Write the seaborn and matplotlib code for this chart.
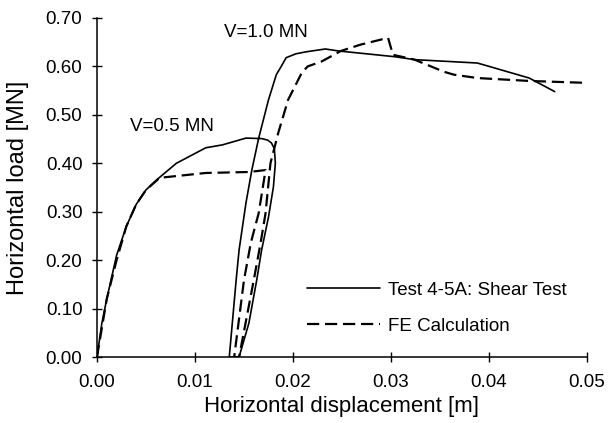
import numpy as np
import pandas as pd
import seaborn as sns
import matplotlib
matplotlib.use('Agg')
from matplotlib import pyplot as plt

test_x = [0.0, 0.0005, 0.001, 0.002, 0.003, 0.004, 0.005, 0.0061, 0.0081, 0.0111, 0.0128,
          0.0152, 0.0168, 0.0174, 0.0178, 0.0181, 0.0182, 0.018, 0.0175, 0.0168, 0.0163, 0.0155,
          0.0145, 0.0135, 0.0142, 0.0145, 0.0152, 0.0158, 0.0165, 0.0175, 0.0183, 0.0188,
          0.0193, 0.0203, 0.0213, 0.0233, 0.0246, 0.0304, 0.0324, 0.0388, 0.0395, 0.0441, 0.0467]
test_y = [0.0, 0.07, 0.12, 0.21, 0.27, 0.315, 0.345, 0.366, 0.40, 0.432, 0.438,
          0.452, 0.451, 0.448, 0.442, 0.43, 0.40, 0.351, 0.289, 0.221, 0.159, 0.07,
          0.0, 0.0, 0.159, 0.221, 0.318, 0.386, 0.452, 0.531, 0.583, 0.600,
          0.618, 0.626, 0.630, 0.636, 0.632, 0.62, 0.614, 0.607, 0.603, 0.576, 0.548]

fe_x = [0.0, 0.001, 0.002, 0.003, 0.004, 0.005, 0.0064, 0.0111, 0.0155, 0.0172, 0.0165,
        0.0157, 0.015, 0.014, 0.0145, 0.016, 0.0167, 0.0172, 0.0177, 0.0185, 0.0195, 0.0209,
        0.0215, 0.0229, 0.0249, 0.0269, 0.0297, 0.0302, 0.0324, 0.0354, 0.0364, 0.0388, 0.0441, 0.05]
fe_y = [0.0, 0.12, 0.2, 0.27, 0.315, 0.345, 0.37, 0.38, 0.382, 0.386, 0.297,
        0.236, 0.159, 0.0, 0.0, 0.159, 0.236, 0.297, 0.40, 0.463, 0.531, 0.587,
        0.60, 0.61, 0.632, 0.645, 0.659, 0.624, 0.614, 0.589, 0.583, 0.576, 0.57, 0.566]

x_ticks = [0.00, 0.01, 0.02, 0.03, 0.04, 0.05]
y_ticks = [0.00, 0.10, 0.20, 0.30, 0.40, 0.50, 0.60, 0.70]

df_test = pd.DataFrame({"disp": test_x, "load": test_y})
df_fe = pd.DataFrame({"disp": fe_x, "load": fe_y})

sns.set_style("white")
plt.rcParams['font.family'] = ['Liberation Sans', 'DejaVu Sans']
plt.rcParams['text.color'] = 'black'
plt.rcParams['axes.labelcolor'] = 'black'

fig = plt.figure(figsize=(6.08, 4.23), dpi=100)
ax = fig.add_axes([0.1595, 0.156, 0.806, 0.8015])

sns.lineplot(data=df_test, x="disp", y="load", sort=False, estimator=None,
             color="black", lw=1.2, label="Test 4-5A: Shear Test", ax=ax)
sns.lineplot(data=df_fe, x="disp", y="load", sort=False, estimator=None,
             color="black", lw=1.6, dashes=False, label="FE Calculation", ax=ax)
ax.lines[1].set_linestyle((0, (5.5, 2.6)))

ax.set_xlim(0, 0.05)
ax.set_ylim(0, 0.70)
ax.set_xticks(x_ticks)
ax.set_yticks(y_ticks)
ax.set_xticklabels([f"{t:.2f}" for t in x_ticks])
ax.set_yticklabels([f"{t:.2f}" for t in y_ticks])
ax.tick_params(bottom=True, left=True, direction="inout", length=7, width=1,
               colors="black", labelcolor="black", labelsize=13.5)
ax.tick_params(axis="x", pad=9)
ax.tick_params(axis="y", pad=7)

for s in ["top", "right"]:
    ax.spines[s].set_visible(False)
for s in ["left", "bottom"]:
    ax.spines[s].set_color("black")
    ax.spines[s].set_linewidth(1.1)

ax.set_xlabel("Horizontal displacement [m]", fontsize=16)
ax.set_ylabel("Horizontal load [MN]", fontsize=17)
ax.xaxis.set_label_coords(0.5, -0.147)
ax.xaxis.label.set_va("center")
ax.yaxis.set_label_coords(-0.161, 0.5)
ax.yaxis.label.set_va("center")

ax.text(0.0034, 0.475, "V=0.5 MN", fontsize=13.5, va="center", ha="left")
ax.text(0.013, 0.669, "V=1.0 MN", fontsize=13.5, va="center", ha="left")

leg = ax.legend(loc="center left", bbox_to_anchor=(0.4286, 0.1445), frameon=False,
                fontsize=13.5, handlelength=3.9, handletextpad=0.4, labelspacing=1.0,
                borderpad=0, borderaxespad=0)

plt.savefig("out.png", dpi=100)
